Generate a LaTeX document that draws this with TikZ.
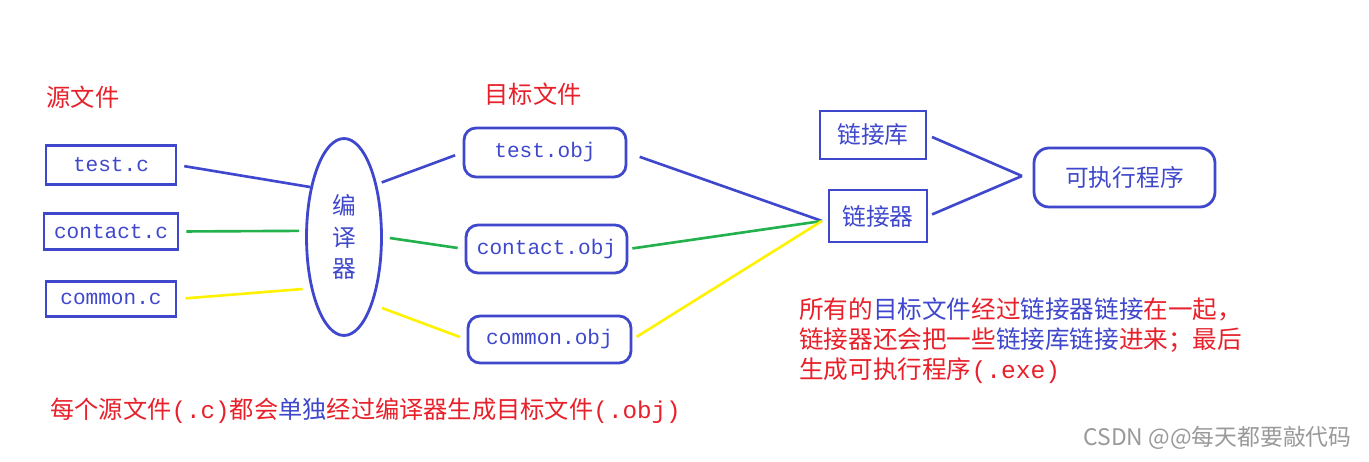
\documentclass[tikz,border=0pt]{standalone}
\usepackage{fontspec}
\setmainfont{Noto Sans CJK SC}
\newfontfamily\codefont{Liberation Mono}
\usetikzlibrary{shapes.geometric}
\definecolor{pblue}{HTML}{3F48CC}
\definecolor{pgreen}{HTML}{22B14C}
\definecolor{pyellow}{HTML}{FFF200}
\definecolor{pred}{HTML}{E8202A}
\tikzset{
  filebox/.style={draw=pblue, line width=1.6pt, text=pblue, inner sep=0pt,
    font=\codefont\fontsize{12}{14}\selectfont},
  objbox/.style={filebox, rounded corners=0.24cm},
  cnbox/.style={draw=pblue, line width=1.6pt, text=pblue, inner sep=0pt,
    font=\fontsize{13.5}{16}\selectfont},
  redtitle/.style={text=pred, font=\fontsize{13.8}{16}\selectfont},
  wire/.style={line width=1.5pt},
}
\newcommand{\lat}[1]{{\codefont #1}}

\begin{document}
\begin{tikzpicture}[x=0.02cm, y=-0.02cm]
% pixel grid of the screenshot, y downwards
\useasboundingbox (0,0) rectangle (1369,462);
\node[redtitle] (srctitle) at (83,97) {源文件};
\node[redtitle] (objtitle) at (533,94) {目标文件};
% sources
\node[filebox, minimum width=2.6cm, minimum height=0.77cm] (src1) at (111,165) {test.c};
\node[filebox, minimum width=2.68cm, minimum height=0.71cm] (src2) at (111,231.5) {contact.c};
\node[filebox, minimum width=2.6cm, minimum height=0.69cm] (src3) at (111,299) {common.c};
% compiler
\node[ellipse, draw=pblue, line width=1.6pt, text=pblue, align=center,
  minimum width=1.5cm, minimum height=3.94cm, inner sep=0pt,
  font=\fontsize{13.5}{18}\selectfont] (comp) at (344,237) {编\\译\\器};
% objects
\node[objbox, minimum width=3.24cm, minimum height=0.98cm] (obj1) at (545,152.5) {test.obj};
\node[objbox, minimum width=3.22cm, minimum height=0.96cm] (obj2) at (546.5,249) {contact.obj};
\node[objbox, minimum width=3.26cm, minimum height=0.94cm] (obj3) at (549.5,339.5) {common.obj};
% linker side
\node[cnbox, minimum width=2.12cm, minimum height=0.96cm] (lib) at (873,135) {链接库};
\node[cnbox, minimum width=1.96cm, minimum height=1.04cm] (lnk) at (878,216) {链接器};
\node[cnbox, rounded corners=0.3cm, minimum width=3.62cm, minimum height=1.18cm] (exe) at (1124.5,177.5) {可执行程序};
\coordinate (hub) at (822,221);
\coordinate (tip) at (1022,176);
% wires
\draw[wire, pblue, shorten <=0.14cm] (src1.east) -- (comp.124);
\draw[wire, pgreen, shorten <=0.14cm, shorten >=0.12cm] (src2.east) -- (comp.171);
\draw[wire, pyellow, shorten <=0.16cm, shorten >=0.16cm] (src3.east) -- (comp.237);
\draw[wire, pblue, shorten <=0.1cm, shorten >=0.16cm] (comp.58) -- (obj1.west);
\draw[wire, pgreen, shorten <=0.14cm, shorten >=0.14cm] (comp.east) -- (obj2.west);
\draw[wire, pyellow, shorten <=0.2cm, shorten >=0.14cm] (comp.293) -- (obj3.west);
\draw[wire, pblue, shorten <=0.26cm] (obj1.east) -- (hub);
\draw[wire, pgreen, shorten <=0.08cm] (obj2.east) -- (hub);
\draw[wire, pyellow, shorten <=0.1cm] (obj3.east) -- (hub);
\draw[wire, pblue, shorten <=0.1cm] (lib.east) -- (tip);
\draw[wire, pblue, shorten <=0.08cm] (lnk.east) -- (tip);
% notes
\node[text=pred, anchor=west, align=left, inner sep=0pt,
  font=\fontsize{14}{17}\selectfont] (note) at (799,341)
  {所有的\textcolor{pblue}{目标文件}经过\textcolor{pblue}{链接器链接}在一起，\\
   链接器还会把一些\textcolor{pblue}{链接库链接}进来；最后\\
   生成可执行程序\lat{(.exe)}};
\node[text=pred, anchor=west, inner sep=0pt, font=\fontsize{13.8}{16}\selectfont]
  (summary) at (50,411) {每个源文件\lat{(.c)}都会\textcolor{pblue}{单独}经过编译器生成目标文件\lat{(.obj)}};
\node[text=black!40, anchor=east, inner sep=0pt, font=\fontsize{13}{15}\selectfont]
  (mark) at (1352,438) {CSDN @@每天都要敲代码};
\end{tikzpicture}
\end{document}
